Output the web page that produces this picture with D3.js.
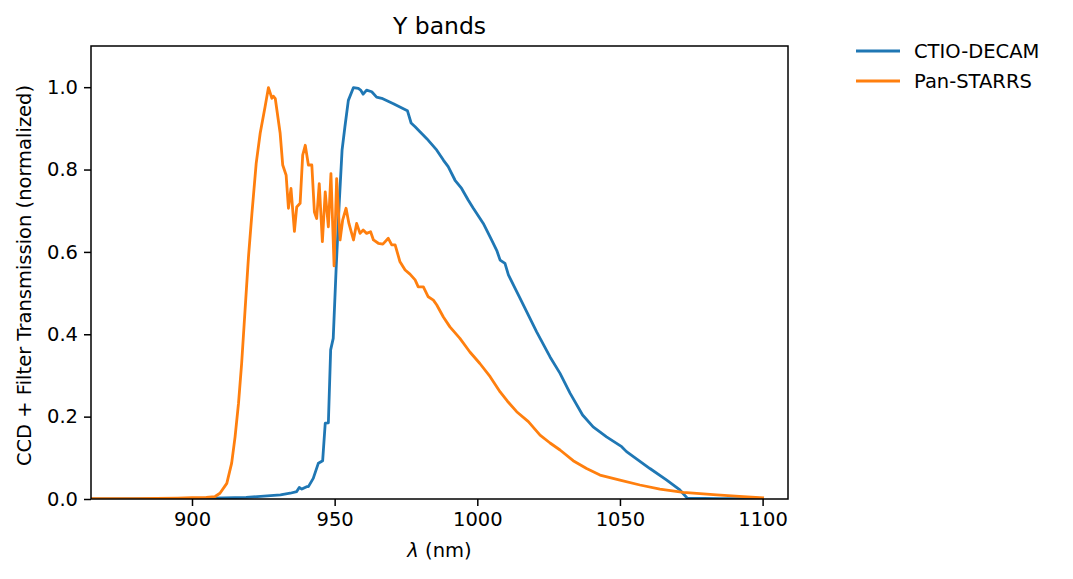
<!DOCTYPE html>
<html>
<head>
<meta charset="utf-8">
<script src="https://cdn.jsdelivr.net/npm/d3@7"></script>
<style>
  body { margin: 0; background: #fff; }
  svg { display: block; font-family: "DejaVu Sans", sans-serif; }
</style>
</head>
<body>
<div id="chart"></div>
<script>
// Y band transmission curves (wavelength nm, normalized transmission)
const decamWave = [865, 900, 907, 919, 931, 934.4, 936.7, 937.6, 938.5, 940.2, 940.8, 942.5, 944.3, 945.8, 946.7,
  947.8, 948.6, 949.5, 950.5, 951.6, 952.6, 953.6, 954.8, 956.6, 958.3, 959.1, 960, 961.2, 963, 964.7, 966.5,
  970.6, 975.5, 976.8, 978.2, 979.9, 982.3, 985.8, 988.1, 989.8, 992.2, 994.5, 996.8, 998.6, 1002.1, 1005,
  1006.8, 1008, 1009.7, 1010.9, 1015, 1020.8, 1025.5, 1029, 1032.5, 1036.9, 1040.6, 1045.3, 1050.6, 1052.3,
  1060.5, 1066.4, 1071, 1073.6, 1085, 1100];
const decamTrans = [0, 0.001, 0.002, 0.004, 0.010, 0.014, 0.018, 0.028, 0.024, 0.030, 0.030, 0.050, 0.087, 0.093, 0.184,
  0.185, 0.362, 0.390, 0.556, 0.718, 0.847, 0.904, 0.968, 0.999, 0.997, 0.993, 0.983, 0.993, 0.989, 0.976, 0.973,
  0.960, 0.943, 0.913, 0.904, 0.892, 0.875, 0.847, 0.823, 0.807, 0.774, 0.754, 0.726, 0.706, 0.669, 0.629,
  0.604, 0.580, 0.572, 0.544, 0.487, 0.406, 0.345, 0.305, 0.257, 0.204, 0.175, 0.151, 0.127, 0.115,
  0.074, 0.046, 0.022, 0.002, 0.001, 0.001];

const panWave = [865, 880, 895, 900, 905, 908.1, 909.8, 912.2, 913.9, 915.1, 916.3, 917.4, 918.6, 919.8, 921, 922.5,
  923.9, 925.6, 926.8, 928, 928.5, 929.2, 930.9, 931.8, 933, 933.8, 934.7, 935.9, 936.7, 937.9, 938.8, 939.7,
  940.8, 942, 942.9, 943.7, 944.6, 945.7, 946.7, 947.8, 948.7, 949.8, 950.7, 951.9, 952.8, 954, 955, 956.6,
  957.7, 958.9, 960, 961.2, 962.6, 963.6, 965.3, 966.9, 968.8, 970, 971.2, 972.9, 974.7, 976.4, 978.2, 979.3,
  981.1, 982.8, 984.6, 985.8, 988.1, 990.4, 993.9, 997.4, 1000.9, 1004.5, 1008, 1010.5, 1013.8, 1017.9, 1022,
  1025.5, 1029, 1033.6, 1038.3, 1043, 1050, 1057, 1064, 1072.2, 1083.9, 1093.2, 1100];
const panTrans = [0.001, 0.001, 0.002, 0.003, 0.004, 0.006, 0.014, 0.038, 0.087, 0.151, 0.232, 0.329, 0.459, 0.588, 0.693, 0.815,
  0.888, 0.952, 0.999, 0.973, 0.978, 0.972, 0.888, 0.811, 0.786, 0.706, 0.754, 0.650, 0.709, 0.718, 0.835, 0.859,
  0.811, 0.811, 0.697, 0.681, 0.766, 0.625, 0.746, 0.661, 0.790, 0.566, 0.778, 0.629, 0.677, 0.706, 0.669, 0.629,
  0.669, 0.645, 0.653, 0.645, 0.649, 0.629, 0.621, 0.619, 0.633, 0.617, 0.617, 0.576, 0.556, 0.546, 0.532, 0.515,
  0.515, 0.491, 0.483, 0.471, 0.442, 0.418, 0.390, 0.357, 0.329, 0.297, 0.260, 0.238, 0.212, 0.188, 0.155,
  0.136, 0.119, 0.093, 0.074, 0.058, 0.046, 0.034, 0.024, 0.016, 0.010, 0.006, 0.003];

const seriesNames = ["CTIO-DECAM", "Pan-STARRS"];
const seriesColors = ["#1f77b4", "#ff7f0e"];
const xTicks = [900, 950, 1000, 1050, 1100];
const yTicks = [0, 0.2, 0.4, 0.6, 0.8, 1.0];

const W = 1073, H = 579;
const m = {left: 91, top: 46, right: 788, bottom: 499};
const fs = 19.5;

const svg = d3.select("#chart").append("svg").attr("width", W).attr("height", H);

const x = d3.scaleLinear().domain([864.6, 1108.9]).range([m.left, m.right]);
const y = d3.scaleLinear().domain([0, 1.1]).range([m.bottom, m.top]);

const series = [
  decamWave.map((w, i) => [w, decamTrans[i]]),
  panWave.map((w, i) => [w, panTrans[i]])
];

svg.append("defs").append("clipPath").attr("id", "clip")
  .append("rect").attr("x", m.left).attr("y", m.top)
  .attr("width", m.right - m.left).attr("height", m.bottom - m.top);

const line = d3.line().x(d => x(d[0])).y(d => y(d[1]));
svg.append("g").attr("clip-path", "url(#clip)")
  .selectAll("path").data(series).join("path")
  .attr("d", line)
  .attr("fill", "none")
  .attr("stroke", (d, i) => seriesColors[i])
  .attr("stroke-width", 2.8)
  .attr("stroke-linejoin", "round")
  .attr("stroke-linecap", "square");

// axes
const xAxis = svg.append("g").attr("transform", `translate(0,${m.bottom})`)
  .call(d3.axisBottom(x).tickValues(xTicks).tickSize(7).tickPadding(6).tickFormat(d3.format("d")));
const yAxis = svg.append("g").attr("transform", `translate(${m.left},0)`)
  .call(d3.axisLeft(y).tickValues(yTicks).tickSize(7).tickPadding(6).tickFormat(d3.format(".1f")));
[xAxis, yAxis].forEach(a => {
  a.select(".domain").remove();
  a.selectAll("line").attr("stroke", "#000").attr("stroke-width", 1.5);
  a.selectAll("text").attr("font-size", fs).attr("fill", "#000").attr("font-family", "DejaVu Sans");
});

svg.append("rect").attr("x", m.left).attr("y", m.top)
  .attr("width", m.right - m.left).attr("height", m.bottom - m.top)
  .attr("fill", "none").attr("stroke", "#000").attr("stroke-width", 1.5);

// labels
svg.append("text").attr("x", (m.left + m.right) / 2).attr("y", 34)
  .attr("text-anchor", "middle").attr("font-size", 23.5).text("Y bands");

const xl = svg.append("text").attr("x", (m.left + m.right) / 2).attr("y", 557)
  .attr("text-anchor", "middle").attr("font-size", fs);
xl.append("tspan").attr("font-style", "italic").text("λ");
xl.append("tspan").text(" (nm)");

svg.append("text").attr("transform", `translate(31,${(m.top + m.bottom) / 2 + 3}) rotate(-90)`)
  .attr("text-anchor", "middle").attr("font-size", fs)
  .text("CCD + Filter Transmission (normalized)");

// legend
const leg = svg.append("g").attr("transform", "translate(856,51)");
seriesNames.forEach((n, i) => {
  const g = leg.append("g").attr("transform", `translate(0,${i * 30})`);
  g.append("line").attr("x1", 0).attr("x2", 44).attr("y1", 0).attr("y2", 0)
    .attr("stroke", seriesColors[i]).attr("stroke-width", 2.8);
  g.append("text").attr("x", 58).attr("y", 7).attr("font-size", fs).text(n);
});
</script>
</body>
</html>
